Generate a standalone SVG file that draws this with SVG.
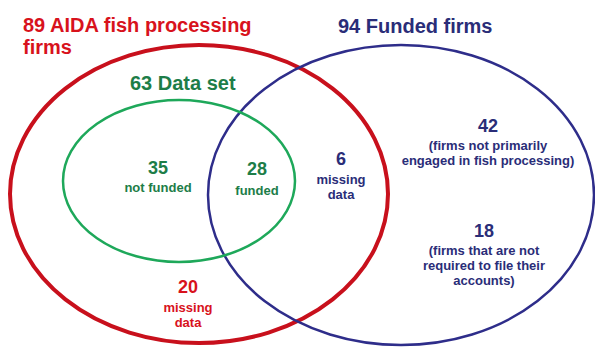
<svg xmlns="http://www.w3.org/2000/svg" width="595" height="350" viewBox="0 0 595 350">
<style>
text{font-family:"Liberation Sans",Arial,sans-serif;font-weight:bold;text-anchor:middle}
.red{fill:#d8121c}
.navy{fill:#2a2d78}
.green{fill:#1d7d48}
.title{font-size:20px;text-anchor:start}
.num{font-size:18px}
.lab{font-size:13px}
</style>
<rect width="595" height="350" fill="#fff"/>
<g id="connectors"/>
<g id="aida">
<ellipse cx="199" cy="194" rx="189" ry="149" fill="none" stroke="#c8101c" stroke-width="4"/>
<text class="red title" x="23" y="32">89 AIDA fish processing</text>
<text class="red title" x="23" y="54">firms</text>
</g>
<g id="funded">
<ellipse cx="401" cy="195" rx="193" ry="150" fill="none" stroke="#2e2d8a" stroke-width="2.5"/>
<text class="navy title" x="338" y="33">94 Funded firms</text>
</g>
<g id="dataset">
<ellipse cx="179" cy="181" rx="116" ry="81" fill="none" stroke="#1ea85a" stroke-width="2.5"/>
<text class="green title" x="130" y="90">63 Data set</text>
</g>
<g id="notfunded">
<text class="green num" x="158" y="174">35</text>
<text class="green lab" x="158" y="192">not funded</text>
</g>
<g id="fundedset">
<text class="green num" x="257" y="175">28</text>
<text class="green lab" x="257" y="195">funded</text>
</g>
<g id="missing6">
<text class="navy num" x="341" y="165">6</text>
<text class="navy lab" x="341" y="184">missing</text>
<text class="navy lab" x="341" y="199">data</text>
</g>
<g id="n42">
<text class="navy num" x="488" y="132">42</text>
<text class="navy lab" x="488" y="150">(firms not primarily</text>
<text class="navy lab" x="488" y="165">engaged in fish processing)</text>
</g>
<g id="n18">
<text class="navy num" x="484" y="237">18</text>
<text class="navy lab" x="484" y="255">(firms that are not</text>
<text class="navy lab" x="484" y="270">required to file their</text>
<text class="navy lab" x="484" y="285">accounts)</text>
</g>
<g id="missing20">
<text class="red num" x="188" y="293">20</text>
<text class="red lab" x="188" y="312">missing</text>
<text class="red lab" x="188" y="327">data</text>
</g>
</svg>
